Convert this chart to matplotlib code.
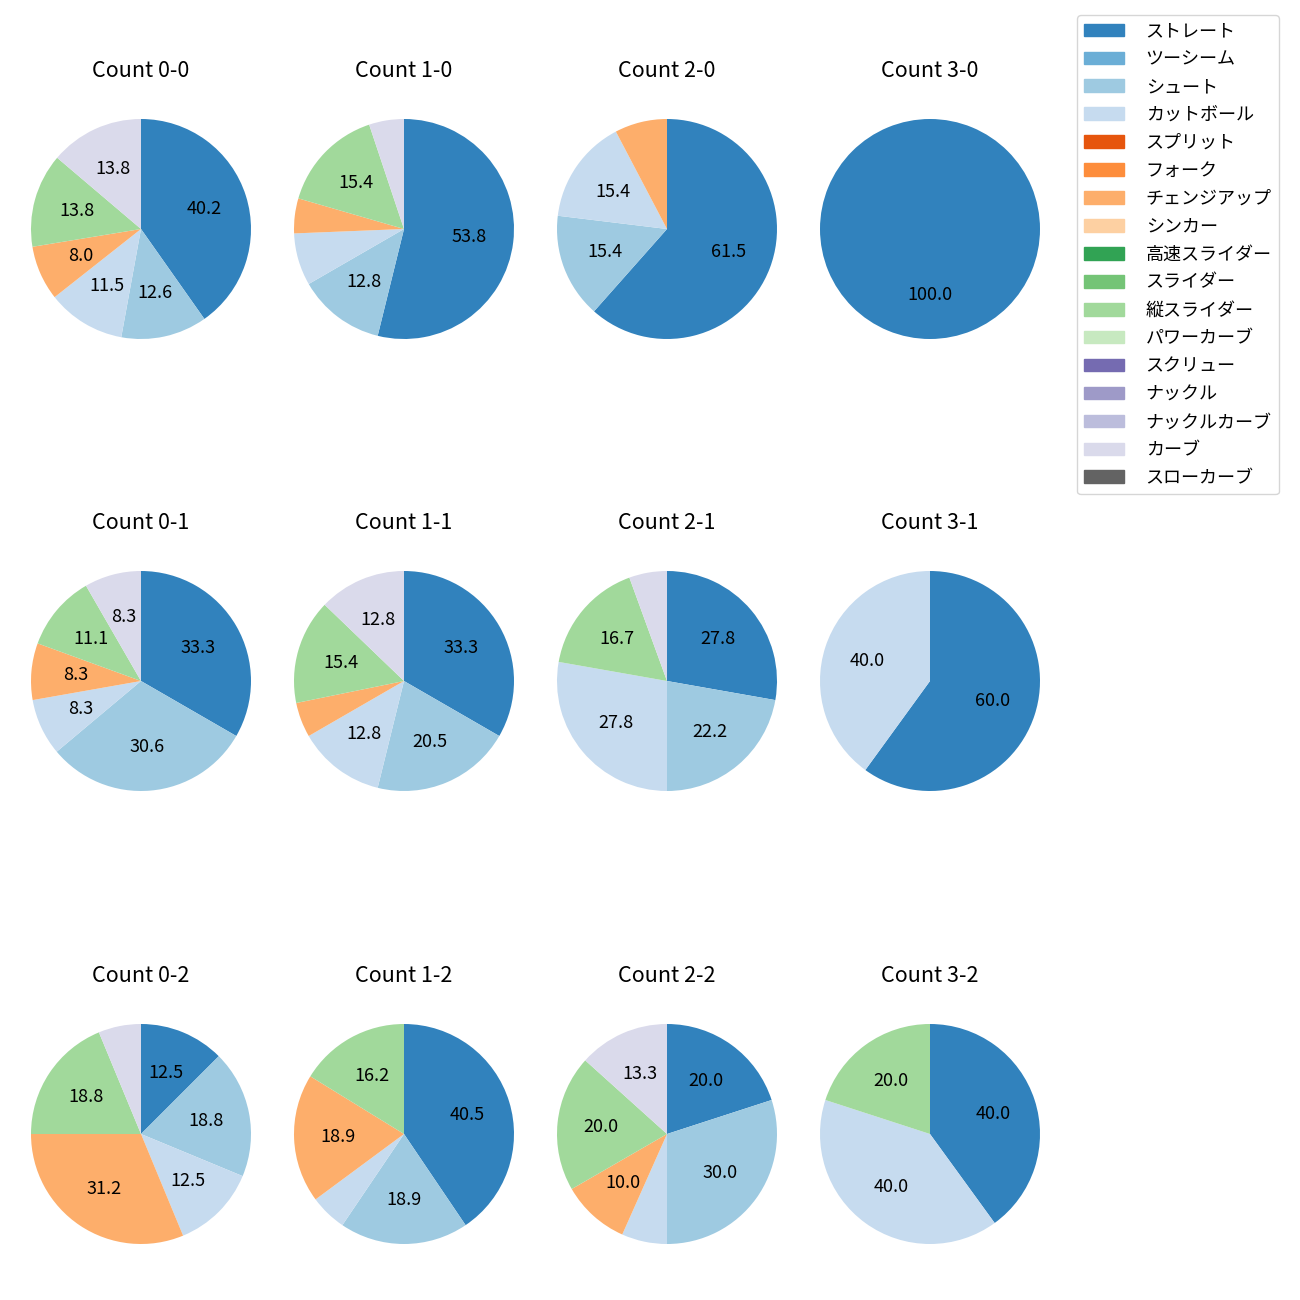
import numpy as np
import matplotlib
matplotlib.use("Agg")
import matplotlib.pyplot as plt
from matplotlib.patches import Patch

plt.rcParams['font.family'] = ['Noto Sans CJK JP', 'DejaVu Sans']

pitch_types = ['ストレート', 'ツーシーム', 'シュート', 'カットボール', 'スプリット', 'フォーク',
               'チェンジアップ', 'シンカー', '高速スライダー', 'スライダー', '縦スライダー',
               'パワーカーブ', 'スクリュー', 'ナックル', 'ナックルカーブ', 'カーブ', 'スローカーブ']

# pitch counts per ball-strike count, in the order of pitch_types
counts = {
    'Count 0-0': [35, 0, 11, 10, 0, 0, 7, 0, 0, 0, 12, 0, 0, 0, 0, 12, 0],
    'Count 1-0': [21, 0, 5, 3, 0, 0, 2, 0, 0, 0, 6, 0, 0, 0, 0, 2, 0],
    'Count 2-0': [8, 0, 2, 2, 0, 0, 1, 0, 0, 0, 0, 0, 0, 0, 0, 0, 0],
    'Count 3-0': [1, 0, 0, 0, 0, 0, 0, 0, 0, 0, 0, 0, 0, 0, 0, 0, 0],
    'Count 0-1': [12, 0, 11, 3, 0, 0, 3, 0, 0, 0, 4, 0, 0, 0, 0, 3, 0],
    'Count 1-1': [13, 0, 8, 5, 0, 0, 2, 0, 0, 0, 6, 0, 0, 0, 0, 5, 0],
    'Count 2-1': [5, 0, 4, 5, 0, 0, 0, 0, 0, 0, 3, 0, 0, 0, 0, 1, 0],
    'Count 3-1': [3, 0, 0, 2, 0, 0, 0, 0, 0, 0, 0, 0, 0, 0, 0, 0, 0],
    'Count 0-2': [2, 0, 3, 2, 0, 0, 5, 0, 0, 0, 3, 0, 0, 0, 0, 1, 0],
    'Count 1-2': [15, 0, 7, 2, 0, 0, 7, 0, 0, 0, 6, 0, 0, 0, 0, 0, 0],
    'Count 2-2': [6, 0, 9, 2, 0, 0, 3, 0, 0, 0, 6, 0, 0, 0, 0, 4, 0],
    'Count 3-2': [2, 0, 0, 2, 0, 0, 0, 0, 0, 0, 1, 0, 0, 0, 0, 0, 0],
}

colors = plt.get_cmap('tab20c').colors[:len(pitch_types)]

fig = plt.figure(figsize=(13, 13), dpi=100)

col_x = [141, 404, 667, 930]
row_y = [229, 681, 1134]
size = 275

for i, (title, vals) in enumerate(counts.items()):
    r, c = divmod(i, 4)
    cx, cy = col_x[c], row_y[r]
    ax = fig.add_axes([(cx - size / 2) / 1300, 1 - (cy + size / 2) / 1300, size / 1300, size / 1300])
    vals = np.array(vals)
    mask = vals > 0
    ax.pie(vals[mask], colors=[colors[k] for k in np.where(mask)[0]],
           startangle=90, counterclock=False,
           autopct=lambda p: f'{p:.1f}' if p >= 7.9 else '',
           textprops={'fontsize': 13})
    ax.set_title(title, fontsize=15.5, pad=10.5)

handles = [Patch(color=colors[k], label=pitch_types[k]) for k in range(len(pitch_types))]
fig.legend(handles=handles, loc='upper left', bbox_to_anchor=(1068 / 1300, 1 - 6 / 1300),
           fontsize=13, handletextpad=1.2, handlelength=2.2, labelspacing=0.55)

fig.savefig('out.png')
